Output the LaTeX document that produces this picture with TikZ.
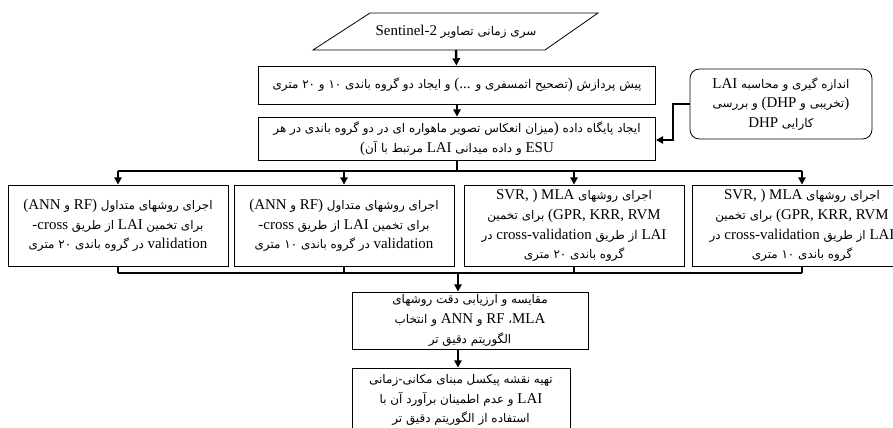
\documentclass[tikz,border=0pt]{standalone}
\usepackage{fontspec}
\setmainfont{Liberation Serif}
\newfontfamily\farsi[Script=Arabic,Scale=0.8]{DejaVu Sans}
\usetikzlibrary{arrows.meta}
\TeXXeTstate=1
\newcommand{\fa}[1]{\hbox{\farsi\beginR #1\endR}}

\begin{document}
\begin{tikzpicture}[x=0.75pt,y=-0.75pt,
  box/.style={draw, rectangle, line width=0.6pt, align=center, inner sep=2pt,
    font=\fontsize{11.2}{14.8}\selectfont},
  flow/.style={-{Triangle[length=5.5pt,width=5.5pt]}, line width=1.8pt},
  bus/.style={line width=1.8pt}]
\useasboundingbox (0,0) rectangle (893,428);

% Input time series (parallelogram drawn round the text)
\node[font=\fontsize{11.2}{14}\selectfont] (series) at (456,31.5)
  {Sentinel-2 \fa{سری زمانی تصاویر}};
\draw[line width=0.6pt] ([shift={(-86,-18.5)}]series.center) -- ([shift={(142,-18.5)}]series.center)
  -- ([shift={(89,18.5)}]series.center) -- ([shift={(-143,18.5)}]series.center) -- cycle;

% Preprocessing and database
\node[box, minimum width=297.75pt, minimum height=28.5pt] (prep) at (457,85)
  {\fa{و ایجاد دو گروه باندی ۱۰ و ۲۰ متری} (... \fa{تصحیح اتمسفری و}) \fa{پیش پردازش}};
\node[box, minimum width=297.75pt, minimum height=32.25pt] (base) at (457,138.5)
  {\fa{میزان انعکاس تصویر ماهواره ای در دو گروه باندی در هر}) \fa{ایجاد پایگاه داده}\\
   (\fa{مرتبط با آن} LAI \fa{و داده میدانی} ESU};

% Field measurement
\node[box, rounded corners=7pt, minimum width=136.5pt, minimum height=52.5pt] (dhp) at (781,104)
  {LAI \fa{اندازه گیری و محاسبه}\\
   \fa{و بررسی} (DHP \fa{تخریبی و})\\
   DHP \fa{کارایی}};

% Four estimation runs
\node[box, minimum width=165pt, minimum height=60.75pt] (conv20) at (118,225.5)
  {(ANN \fa{و} RF) \fa{اجرای روشهای متداول}\\
   -cross \fa{از طریق} LAI \fa{برای تخمین}\\
   \fa{در گروه باندی ۲۰ متری} validation};
\node[box, minimum width=165pt, minimum height=60.75pt] (conv10) at (344,225.5)
  {(ANN \fa{و} RF) \fa{اجرای روشهای متداول}\\
   -cross \fa{از طریق} LAI \fa{برای تخمین}\\
   \fa{در گروه باندی ۱۰ متری} validation};
\node[box, minimum width=165pt, minimum height=60.75pt] (mla20) at (574,225.5)
  {SVR, ) MLA \fa{اجرای روشهای}\\
   \fa{برای تخمین} (GPR, KRR, RVM\\
   \fa{در} cross-validation \fa{از طریق} LAI\\
   \fa{گروه باندی ۲۰ متری}};
\node[box, minimum width=165pt, minimum height=60.75pt] (mla10) at (802,225.5)
  {SVR, ) MLA \fa{اجرای روشهای}\\
   \fa{برای تخمین} (GPR, KRR, RVM\\
   \fa{در} cross-validation \fa{از طریق} LAI\\
   \fa{گروه باندی ۱۰ متری}};

% Comparison and final map
\node[box, minimum width=177pt, minimum height=42.75pt] (compare) at (470,320.5)
  {\fa{مقایسه و ارزیابی دقت روشهای}\\
   \fa{و انتخاب} ANN \fa{و} RF \fa{،}MLA\\
   \fa{الگوریتم دقیق تر}};
\node[box, minimum width=163.5pt, minimum height=48pt] (map) at (461,400)
  {\fa{تهیه نقشه پیکسل مبنای مکانی-زمانی}\\
   \fa{و عدم اطمینان برآورد آن با} LAI\\
   \fa{استفاده از الگوریتم دقیق تر}};

\coordinate (seriesout) at (456,50);
\coordinate (split) at (457,171);
\coordinate (join) at (458,273);
\coordinate (bend) at (673,140);

% Arrows
\draw[flow] (seriesout) -- (prep);
\draw[flow] (prep) -- (base);
\draw[flow] (dhp.west) -| (bend) -- (base.east |- bend);
\draw[bus] (base) -- (split);
\draw[bus] (conv20.north |- split) -- (mla10.north |- split);
\foreach \n in {conv20,conv10,mla20,mla10}
  \draw[flow] (\n.north |- split) -- (\n.north);
\foreach \n in {conv20,conv10,mla20,mla10}
  \draw[bus] (\n.south) -- (\n.south |- join);
\draw[bus] (conv20.south |- join) -- (mla10.south |- join);
\draw[flow] (join) -- (join |- compare.north);
\draw[flow] (compare.south -| join) -- (map.north -| join);
\end{tikzpicture}
\end{document}
